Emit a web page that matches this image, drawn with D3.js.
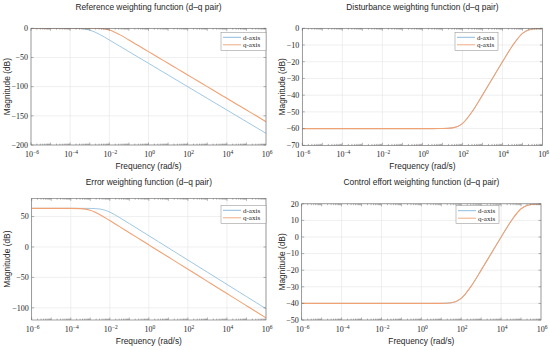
<!DOCTYPE html>
<html>
<head>
<meta charset="utf-8">
<script src="https://cdn.jsdelivr.net/npm/d3@7"></script>
<style>
  html, body { margin: 0; padding: 0; background: #fff; }
  svg { display: block; }
</style>
</head>
<body>
<svg id="chart" width="550" height="350"></svg>
<script>
// ---------------- DATA ----------------
const freqExp = [-6,-5.5,-5,-4.5,-4,-3.5,-3,-2.5,-2,-1.5,-1,-0.5,0,0.5,1,1.5,2,2.5,3,3.5,4,4.5,5,5.5,6];

const seriesNames = ["d-axis", "q-axis"];

const refD  = [0,0,0,0,-0.04,-0.41,-3.01,-10.41,-20.04,-30,-40,-50,-60,-70,-80,-90,-100,-110,-120,-130,-140,-150,-160,-170,-180];
const refQ  = [0,0,0,0,0,0,-0.04,-0.41,-3.01,-10.41,-20.04,-30,-40,-50,-60,-70,-80,-90,-100,-110,-120,-130,-140,-150,-160];

const distD = [-60,-60,-60,-60,-60,-60,-60,-60,-60,-60,-60,-60,-60,-60,-59.96,-59.59,-56.99,-49.6,-39.96,-30,-20.04,-10.41,-3.01,-0.41,-0.04];
const distQ = [-60,-60,-60,-60,-60,-60,-60,-60,-60,-60,-60,-60,-60,-60,-59.96,-59.59,-56.99,-49.6,-39.96,-30,-20.04,-10.41,-3.01,-0.41,-0.04];

const errD  = [63.5,63.5,63.5,63.5,63.5,63.49,63.37,62.31,57.31,48.37,38.49,28.5,18.5,8.5,-1.5,-11.5,-21.5,-31.5,-41.5,-51.5,-61.5,-71.5,-81.5,-91.5,-101.5];
const errQ  = [63.5,63.5,63.5,63.49,63.46,63.09,60.49,53.09,43.46,33.5,23.5,13.5,3.5,-6.5,-16.5,-26.5,-36.5,-46.5,-56.5,-66.5,-76.5,-86.5,-96.5,-106.5,-116.5];

const ctrlD = [-40,-40,-40,-40,-40,-40,-40,-40,-40,-40,-40,-40,-40,-40,-39.96,-39.59,-36.99,-29.6,-19.96,-10,-0.04,9.59,16.99,19.59,19.96];
const ctrlQ = [-40,-40,-40,-40,-40,-40,-40,-40,-40,-40,-40,-40,-40,-40,-39.96,-39.59,-36.99,-29.6,-19.96,-10,-0.04,9.59,16.99,19.59,19.96];

const xTickExp   = [-6,-4,-2,0,2,4,6];
const refYTicks  = [-200,-150,-100,-50,0];
const distYTicks = [-70,-60,-50,-40,-30,-20,-10,0];
const errYTicks  = [-100,-50,0,50];
const ctrlYTicks = [-50,-40,-30,-20,-10,0,10,20];

const titles = [
  "Reference weighting function (d\u2013q pair)",
  "Disturbance weighting function (d\u2013q pair)",
  "Error weighting function (d\u2013q pair)",
  "Control effort weighting function (d\u2013q pair)"
];
const xLabel = "Frequency (rad/s)";
const yLabel = "Magnitude (dB)";

// ---------------- LAYOUT ----------------
const panels = [
  { title: titles[0], d: refD,  q: refQ,  yTicks: refYTicks,  yDom: [-200, 0],  box: [31, 266, 28.3, 145],   leg: [221, 32.3, 45] },
  { title: titles[1], d: distD, q: distQ, yTicks: distYTicks, yDom: [-70, 0],   box: [302.3, 542.5, 28.3, 145.3], leg: [455, 32.3, 43] },
  { title: titles[2], d: errD,  q: errQ,  yTicks: errYTicks,  yDom: [-120, 80], box: [31.7, 266, 198.3, 320], leg: [221, 205.3, 45] },
  { title: titles[3], d: ctrlD, q: ctrlQ, yTicks: ctrlYTicks, yDom: [-50, 20],  box: [301.7, 541, 203.8, 320], leg: [456, 205.7, 43] }
];

const colD = "#7fb4da";
const colQ = "#f1a274";
const axisCol = "#666";
const textCol = "#262626";
const gridCol = "#e4e4e4";
const serif = "'Liberation Serif', 'Times New Roman', serif";
const sans = "'Liberation Sans', Arial, Helvetica, sans-serif";

const svg = d3.select("#chart");
svg.append("rect").attr("width", 550).attr("height", 350).attr("fill", "#fff");

const minusify = v => (v < 0 ? "\u2212" + Math.abs(v) : String(v));

panels.forEach((p, i) => {
  const [x0, x1, y0, y1] = p.box;
  const x = d3.scaleLog().domain([1e-6, 1e6]).range([x0, x1]);
  const y = d3.scaleLinear().domain(p.yDom).range([y1, y0]);
  const g = svg.append("g");

  // grid
  xTickExp.forEach(e => {
    const xx = x(Math.pow(10, e));
    g.append("line").attr("x1", xx).attr("x2", xx).attr("y1", y0).attr("y2", y1)
      .attr("stroke", gridCol).attr("stroke-width", 0.6);
  });
  p.yTicks.forEach(t => {
    const yy = y(t);
    g.append("line").attr("x1", x0).attr("x2", x1).attr("y1", yy).attr("y2", yy)
      .attr("stroke", gridCol).attr("stroke-width", 0.6);
  });

  // clip
  const cid = "clip" + i;
  svg.append("clipPath").attr("id", cid).append("rect")
    .attr("x", x0).attr("y", y0).attr("width", x1 - x0).attr("height", y1 - y0);

  const line = d3.line()
    .x((d, k) => x(Math.pow(10, freqExp[k])))
    .y(d => y(d))
    .curve(d3.curveMonotoneX);

  g.append("path").datum(p.d).attr("d", line).attr("fill", "none")
    .attr("stroke", colD).attr("stroke-width", 0.75).attr("clip-path", `url(#${cid})`);
  g.append("path").datum(p.q).attr("d", line).attr("fill", "none")
    .attr("stroke", colQ).attr("stroke-width", 1.1).attr("clip-path", `url(#${cid})`);

  // minor ticks (log)
  for (let e = -6; e < 6; e++) {
    for (let k = 1; k <= 9; k++) {
      const v = k * Math.pow(10, e);
      const xx = x(v);
      const len = (k === 1) ? 2.5 : 1.4;
      g.append("line").attr("x1", xx).attr("x2", xx).attr("y1", y1).attr("y2", y1 - len)
        .attr("stroke", axisCol).attr("stroke-width", 0.5);
      g.append("line").attr("x1", xx).attr("x2", xx).attr("y1", y0).attr("y2", y0 + len)
        .attr("stroke", axisCol).attr("stroke-width", 0.5);
    }
  }
  // y ticks
  p.yTicks.forEach(t => {
    const yy = y(t);
    g.append("line").attr("x1", x0).attr("x2", x0 + 2.5).attr("y1", yy).attr("y2", yy)
      .attr("stroke", axisCol).attr("stroke-width", 0.5);
    g.append("line").attr("x1", x1).attr("x2", x1 - 2.5).attr("y1", yy).attr("y2", yy)
      .attr("stroke", axisCol).attr("stroke-width", 0.5);
    g.append("text").attr("x", x0 - 3).attr("y", yy + 2.8)
      .attr("text-anchor", "end").attr("font-family", serif).attr("font-size", 8)
      .attr("fill", textCol).text(minusify(t));
  });

  // box
  g.append("rect").attr("x", x0).attr("y", y0).attr("width", x1 - x0).attr("height", y1 - y0)
    .attr("fill", "none").attr("stroke", axisCol).attr("stroke-width", 0.6);

  // x tick labels
  xTickExp.forEach(e => {
    const xx = x(Math.pow(10, e));
    const t = g.append("text").attr("x", xx + 1).attr("y", y1 + 12)
      .attr("text-anchor", "middle").attr("font-family", serif).attr("font-size", 8)
      .attr("fill", textCol);
    t.append("tspan").text("10");
    t.append("tspan").attr("dy", -3.5).attr("font-size", 5.5).text(minusify(e));
  });

  // title & labels
  const cx = (x0 + x1) / 2;
  g.append("text").attr("x", cx).attr("y", (i < 2 ? 10 : 185))
    .attr("text-anchor", "middle").attr("font-family", sans).attr("font-size", 8.4)
    .attr("fill", textCol).text(p.title);
  g.append("text").attr("x", cx).attr("y", y1 + 23.5)
    .attr("text-anchor", "middle").attr("font-family", sans).attr("font-size", 8.4)
    .attr("fill", textCol).text(xLabel);
  const lx = (i % 2 === 0) ? 10 : 285;
  g.append("text").attr("transform", `translate(${lx},${(y0 + y1) / 2}) rotate(-90)`)
    .attr("text-anchor", "middle").attr("font-family", sans).attr("font-size", 8.4)
    .attr("fill", textCol).text(yLabel);

  // legend
  const [lgx, lgy, lgw] = p.leg;
  const lg = g.append("g");
  lg.append("rect").attr("x", lgx).attr("y", lgy).attr("width", lgw).attr("height", 18)
    .attr("fill", "#fff").attr("stroke", "#888").attr("stroke-width", 0.5);
  [colD, colQ].forEach((c, k) => {
    const ly = lgy + 5 + k * 7.5;
    lg.append("line").attr("x1", lgx + 2).attr("x2", lgx + 20).attr("y1", ly).attr("y2", ly)
      .attr("stroke", c).attr("stroke-width", 0.9);
    lg.append("text").attr("x", lgx + 22).attr("y", ly + 2.3)
      .attr("font-family", serif).attr("font-size", 7).attr("fill", textCol)
      .text(seriesNames[k]);
  });
});
</script>
</body>
</html>
